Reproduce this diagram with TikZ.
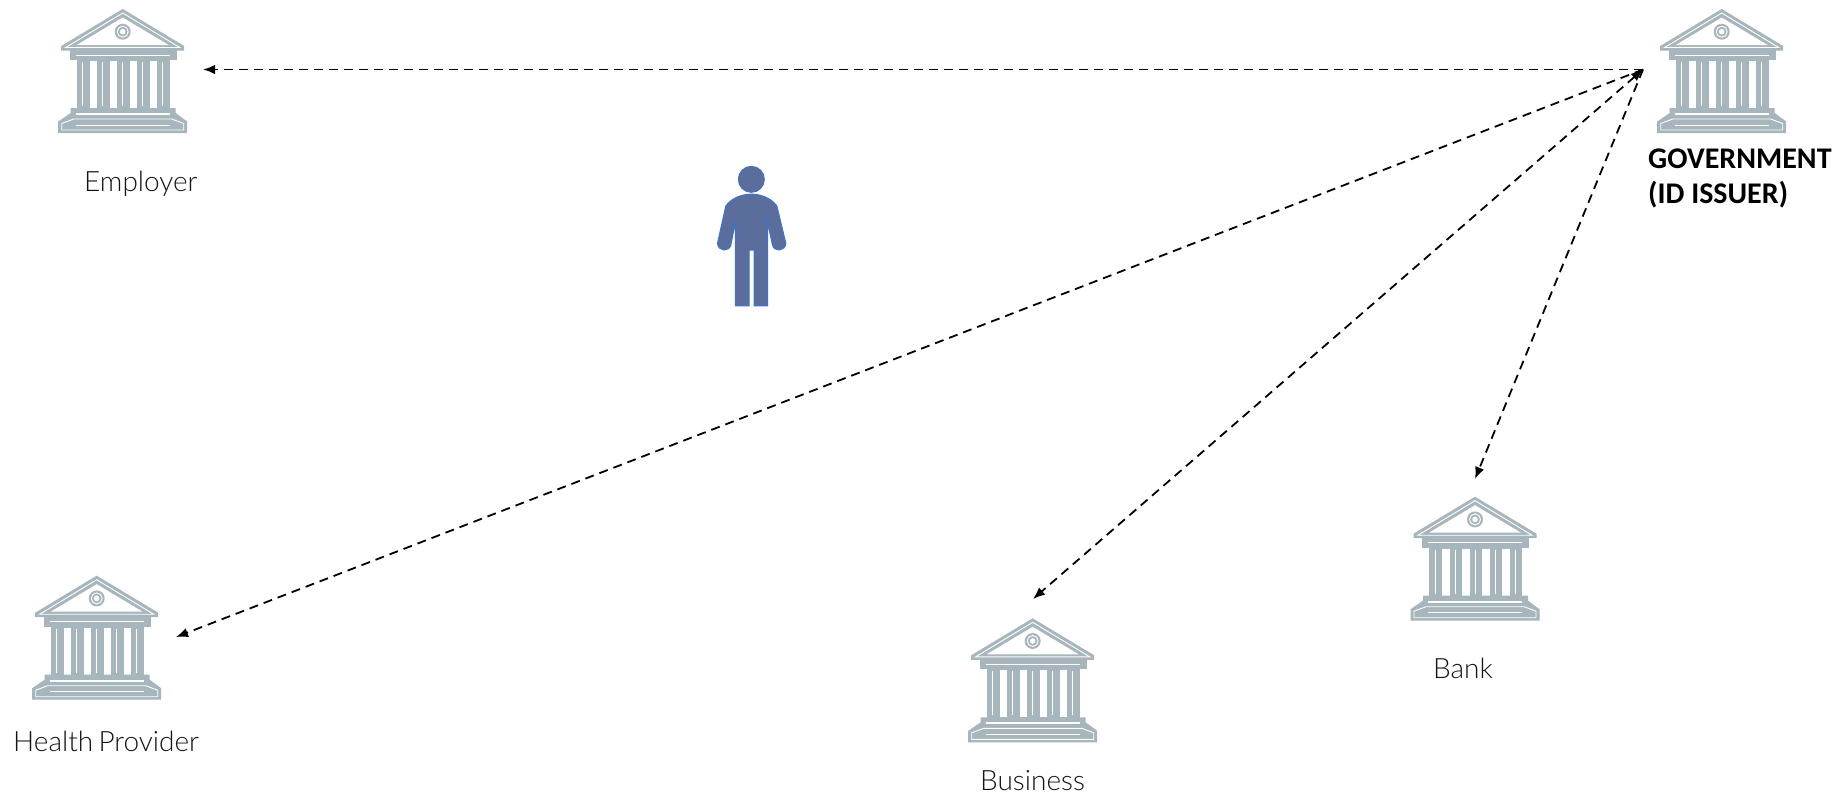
\documentclass[tikz,border=0pt]{standalone}
\usepackage{fontspec}
\usetikzlibrary{arrows.meta}
\setmainfont{Lato Light}[WordSpace=0.7]
\newfontfamily\govfont{Carlito Bold}
\definecolor{bankgray}{HTML}{A6B6BC}
\definecolor{manfill}{HTML}{5B6E9B}
\definecolor{manedge}{HTML}{4472C4}
\tikzset{
  bankpart/.style={fill=bankgray},
  slit/.style={draw=white,line width=.9pt},
  lbl/.style={anchor=base west,inner sep=0pt,text=black!92,font=\fontsize{28}{34}\selectfont},
  dasharrow/.style={->,>={Latex[length=12pt,width=9.5pt]},line width=1.8pt,dash pattern=on 9pt off 6pt},
  bank/.pic={
    \fill[bankpart] (0,0) -- (-61.5,37) -- (-61.5,41.5) -- (61.5,41.5) -- (61.5,37) -- cycle;
    \draw[slit] (0,4) -- (-57,38.5) -- (57,38.5) -- cycle;
    \fill[white] (0,8.5) -- (-46,36) -- (46,36) -- cycle;
    \fill[bankpart] (0,22.7) circle (8pt);
    \draw[slit] (0,22.7) circle (5.5pt);
    \fill[white] (0,22.7) circle (2.8pt);
    \fill[bankpart] (-53,41) rectangle (54,51);
    \draw[slit] (-47,46) -- (47,46);
    \fill[bankpart] (-46,50) rectangle (47,100);
    \foreach \x in {-33,-13,7,27} \fill[white] (\x,52) rectangle (\x+7.5,99);
    \foreach \x in {-40,-20,0,20,40} \draw[draw=white,line width=.7pt] (\x,53) -- (\x,97);
    \fill[bankpart] (-52,99) -- (53,99) -- (53,104) -- (64.5,112.5) -- (64.5,124) -- (-64.5,124) -- (-64.5,112.5) -- (-52,104) -- cycle;
    \draw[draw=white,line width=2pt] (-47,105) -- (47,105);
    \draw[slit] (-61,121) -- (-61,114.5) -- (-49,110) -- (49,110) -- (61,114.5) -- (61,121) -- cycle;
    \draw[slit] (-47,116) -- (47,116);
  }
}
\begin{document}
\begin{tikzpicture}[x=1pt,y=-1pt]
\useasboundingbox (0,0) rectangle (1837,798);
\pic at (122.7,9) {bank};
\pic at (1721.7,9) {bank};
\pic at (96.7,575.7) {bank};
\pic at (1032.7,618.3) {bank};
\pic at (1475,496.7) {bank};
\node[lbl] (Lemp) at (84,191.5) {Employer};
\node[lbl] (Lhea) at (13,751) {Health Provider};
\node[lbl] (Lbus) at (980,790) {Business};
\node[lbl] (Lban) at (1433,678) {Bank};
\node[lbl,text=black,font=\fontsize{30}{35}\govfont] (Lgov) at (1648,168) {GOVERNMENT};
\node[lbl,text=black,font=\fontsize{30}{35}\govfont] (Liss) at (1648,203) {(ID ISSUER)};
\coordinate (Gov) at (1643,69.5);
\coordinate (Emp) at (203,69.5);
\coordinate (Hea) at (176,637);
\coordinate (Bus) at (1033,599);
\coordinate (Ban) at (1475,479);
\draw[dasharrow] (Gov) -- (Emp);
\draw[dasharrow] (Gov) -- (Hea);
\draw[dasharrow,<->] (Gov) -- (Bus);
\draw[dasharrow] (Gov) -- (Ban);
\begin{scope}[shift={(690,150)},x=.3333pt,y=-.3333pt]
\draw[fill=manfill,draw=manedge,line width=1pt] (184,88) circle (13pt);
\draw[fill=manfill,draw=manedge,line width=1.4pt] (137,467) -- (137,210) -- (122,285)
  .. controls (118,305) and (85,305) .. (83,280) -- (108,168) .. controls (125,145) and (155,133) .. (184,133)
  .. controls (213,133) and (243,145) .. (260,168) -- (287,280) .. controls (285,305) and (252,305) .. (248,285)
  -- (232,210) -- (232,467) -- (193,467) -- (193,300) -- (177,300) -- (177,467) -- cycle;
\end{scope}
\end{tikzpicture}
\end{document}
